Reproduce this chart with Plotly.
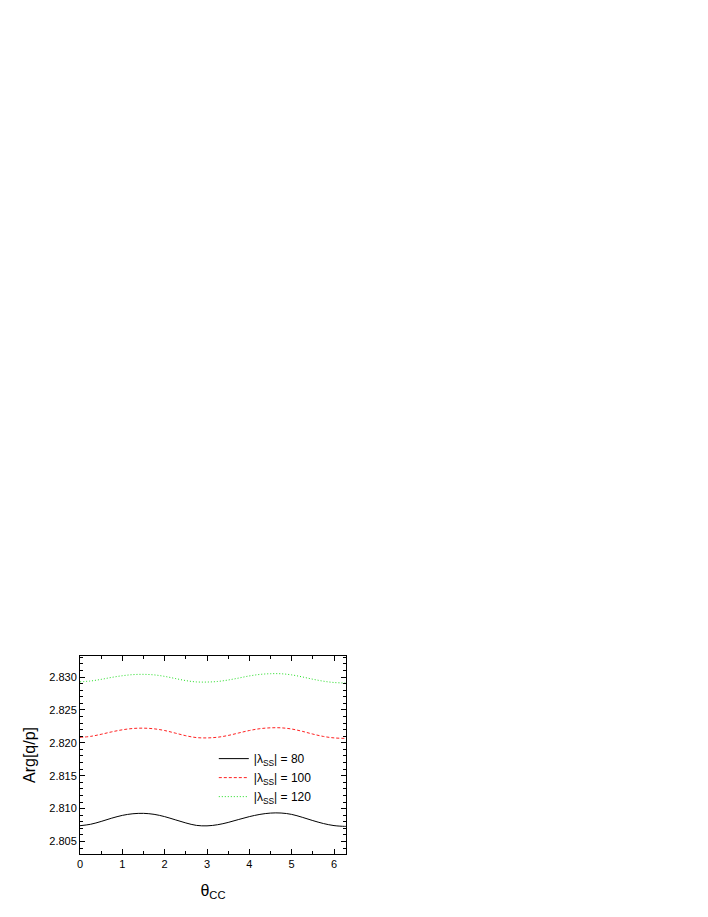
import plotly.graph_objects as go

theta = [0, 0.25, 0.5, 0.75, 1.0, 1.25, 1.5, 1.75, 2.0, 2.25, 2.5, 2.75, 3.0,
         3.25, 3.5, 3.75, 4.0, 4.25, 4.5, 4.75, 5.0, 5.25, 5.5, 5.75, 6.0, 6.25, 6.2832]

arg_80 = [2.80740, 2.80762, 2.80805, 2.80855, 2.80897, 2.80922, 2.80928, 2.80913, 2.80878,
          2.80830, 2.80782, 2.80745, 2.80738, 2.80755, 2.80790, 2.80835, 2.80878, 2.80912,
          2.80932, 2.80933, 2.80912, 2.80868, 2.80818, 2.80773, 2.80742, 2.80730, 2.80730]

arg_100 = [2.82083, 2.82098, 2.82130, 2.82167, 2.82198, 2.82218, 2.82223, 2.82213, 2.82187,
           2.82148, 2.82108, 2.82080, 2.82075, 2.82085, 2.82112, 2.82150, 2.82187, 2.82215,
           2.82228, 2.82228, 2.82210, 2.82175, 2.82133, 2.82097, 2.82075, 2.82068, 2.82068]

arg_120 = [2.82928, 2.82940, 2.82965, 2.82995, 2.83020, 2.83037, 2.83041, 2.83033, 2.83010,
           2.82978, 2.82946, 2.82926, 2.82924, 2.82933, 2.82955, 2.82985, 2.83017, 2.83040,
           2.83051, 2.83050, 2.83033, 2.83002, 2.82967, 2.82937, 2.82917, 2.82910, 2.82909]

series_names = ["|λ<sub>SS</sub>| = 80", "|λ<sub>SS</sub>| = 100", "|λ<sub>SS</sub>| = 120"]
series_values = [arg_80, arg_100, arg_120]
series_colors = ["#000000", "#ff2020", "#20dd20"]
series_dash = ["solid", "3px,2px", "1px,2px"]

x_ticks = [0, 1, 2, 3, 4, 5, 6]
y_ticks = [2.805, 2.810, 2.815, 2.820, 2.825, 2.830]
y_ticklabels = ["2.805", "2.810", "2.815", "2.820", "2.825", "2.830"]

fig = go.Figure()
for name, vals, col, dash in zip(series_names, series_values, series_colors, series_dash):
    fig.add_trace(go.Scatter(
        x=theta, y=vals, mode="lines", name=name,
        line=dict(color=col, width=1, dash=dash, shape="spline", smoothing=1.0),
    ))

font_family = "Arial, Liberation Sans, sans-serif"

fig.update_layout(
    width=708, height=917,
    paper_bgcolor="white", plot_bgcolor="white",
    margin=dict(l=72, r=370, t=648, b=71),
    font=dict(family=font_family, color="black", size=11),
    showlegend=True,
    legend=dict(
        x=0.503, y=0.555, xanchor="left", yanchor="top",
        bgcolor="rgba(0,0,0,0)", borderwidth=0,
        font=dict(size=12, family=font_family),
        tracegroupgap=0, itemwidth=30,
    ),
    xaxis=dict(
        range=[0, 6.2832], tickmode="array", tickvals=x_ticks,
        ticktext=[str(v) for v in x_ticks],
        ticks="inside", ticklen=5, tickwidth=1, tickcolor="black",
        minor=dict(dtick=0.5, tick0=0, ticks="inside", ticklen=3, tickcolor="black"),
        showline=True, linecolor="black", linewidth=1, mirror="allticks",
        showgrid=False, zeroline=False, automargin=False,
        tickfont=dict(size=11),
        title=dict(text="θ<sub>CC</sub>", font=dict(size=16), standoff=15),
    ),
    yaxis=dict(
        range=[2.8031, 2.8332], tickmode="array", tickvals=y_ticks,
        ticktext=y_ticklabels,
        ticks="inside", ticklen=5, tickwidth=1, tickcolor="black",
        minor=dict(dtick=0.001, tick0=2.805, ticks="inside", ticklen=3, tickcolor="black"),
        showline=True, linecolor="black", linewidth=1, mirror="allticks",
        showgrid=False, zeroline=False, automargin=False,
        tickfont=dict(size=11),
        title=dict(text="Arg[q/p]", font=dict(size=16), standoff=9),
    ),
)

fig.write_html("out.html")
